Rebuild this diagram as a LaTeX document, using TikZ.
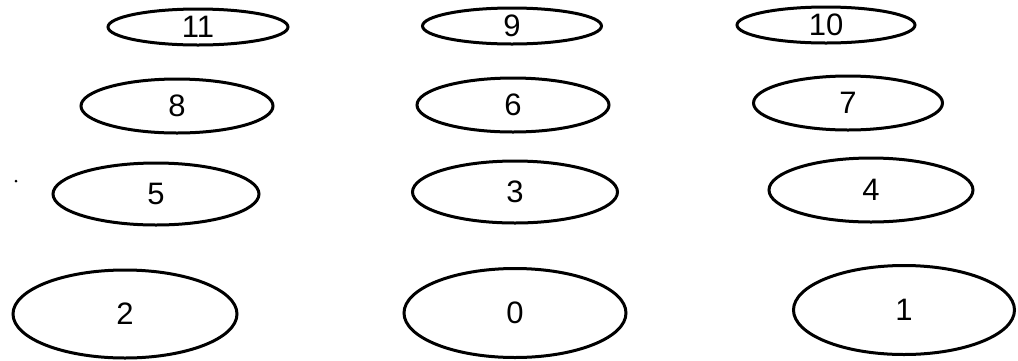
\documentclass[tikz,border=0pt]{standalone}
\usepackage{fontspec}
\setmainfont{Liberation Sans}
\usetikzlibrary{shapes.geometric}
\begin{document}
\begin{tikzpicture}[x=1pt,y=-1pt,
  oval/.style={draw=black,line width=3pt,ellipse,inner sep=0pt,
    font=\fontsize{31}{31}\selectfont}]
\useasboundingbox (0,0) rectangle (1018,360);
\node[oval,minimum width=180pt,minimum height=36pt] (n11) at (198,27) {11};
\node[oval,minimum width=179pt,minimum height=36pt] (n9) at (512,26) {9};
\node[oval,minimum width=178pt,minimum height=36pt] (n10) at (826,25) {10};
\node[oval,minimum width=192pt,minimum height=54pt] (n8) at (177,106) {8};
\node[oval,minimum width=192pt,minimum height=54pt] (n6) at (513,105) {6};
\node[oval,minimum width=189pt,minimum height=54pt] (n7) at (848,103) {7};
\node[oval,minimum width=206pt,minimum height=62pt] (n5) at (156,194) {5};
\node[oval,minimum width=205pt,minimum height=62pt] (n3) at (515,192) {3};
\node[oval,minimum width=204pt,minimum height=64pt] (n4) at (871,190) {4};
\node[oval,minimum width=224pt,minimum height=88pt] (n2) at (125,314) {2};
\node[oval,minimum width=222pt,minimum height=89pt] (n0) at (515,313) {0};
\node[oval,minimum width=221pt,minimum height=89pt] (n1) at (904,310) {1};
\fill (16,181) circle (1.5pt);
\end{tikzpicture}
\end{document}
